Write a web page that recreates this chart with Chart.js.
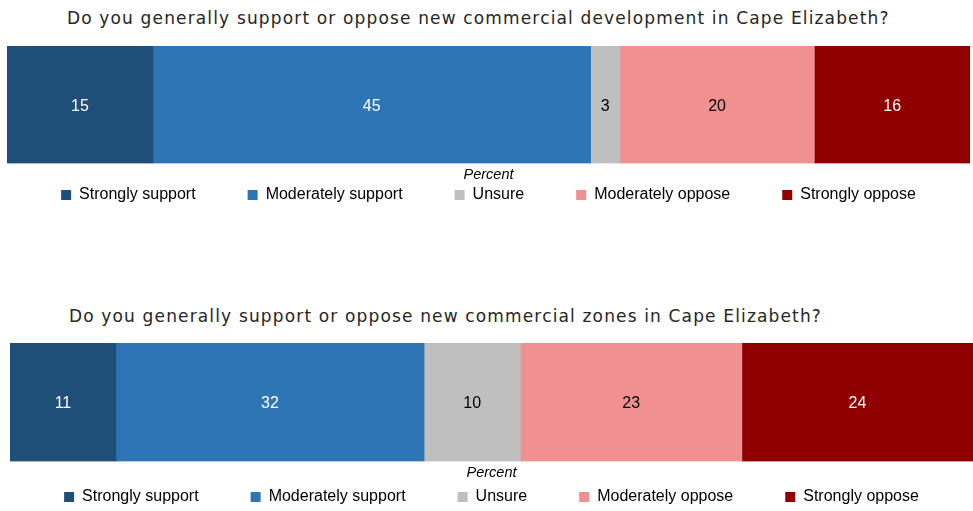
<!DOCTYPE html>
<html>
<head>
<meta charset="utf-8">
<title>Commercial development survey</title>
<script src="https://cdn.jsdelivr.net/npm/chart.js@4.4.0/dist/chart.umd.min.js"></script>
<style>
    body { margin: 0; background: #fff; }
    .question {
        position: absolute;
        font-family: "DejaVu Sans", sans-serif;
        font-size: 17px;
        letter-spacing: 1.15px;
        line-height: 20px;
        color: #262626;
        white-space: nowrap;
    }
    .chart-box { position: absolute; left: 0; width: 973px; }
</style>
</head>
<body>

<div class="question" id="q1" style="left: 67px; top: 8px;"></div>
<div class="chart-box" style="top: 46px; height: 167px;"><canvas id="developmentChart"></canvas></div>

<div class="question" id="q2" style="left: 69px; top: 306px;"></div>
<div class="chart-box" style="top: 343px; height: 172px;"><canvas id="zonesChart"></canvas></div>

<script>
// Survey answers, in percent
const categories = ['Strongly support', 'Moderately support', 'Unsure', 'Moderately oppose', 'Strongly oppose'];
const developmentValues = [15, 45, 3, 20, 16];
const zonesValues = [11, 32, 10, 23, 24];
const questions = [
    'Do you generally support or oppose new commercial development in Cape Elizabeth?',
    'Do you generally support or oppose new commercial zones in Cape Elizabeth?'
];
const axisLabel = 'Percent';

// Segment colours and the colour of the number written on each one
const segmentColors = ['#1f4e79', '#2e75b6', '#bfbfbf', '#f19090', '#900000'];
const numberColors = ['#ffffff', '#ffffff', '#000000', '#000000', '#ffffff'];

const labelFont = '"Liberation Sans", Arial, sans-serif';

// Writes each value in the middle of its segment
const valueLabels = {
    id: 'valueLabels',
    afterDatasetsDraw(chart) {
        const ctx = chart.ctx;
        ctx.save();
        ctx.font = '16px ' + labelFont;
        ctx.textAlign = 'center';
        ctx.textBaseline = 'middle';
        chart.data.datasets.forEach((ds, i) => {
            const bar = chart.getDatasetMeta(i).data[0];
            const props = bar.getProps(['x', 'y', 'base'], true);
            ctx.fillStyle = numberColors[i];
            ctx.fillText(ds.data[0], (props.x + props.base) / 2, props.y + 1.5);
        });
        ctx.restore();
    }
};

function makeChart(canvasId, values, pad, titlePad) {
    const total = values.reduce((a, b) => a + b, 0);

    return new Chart(document.getElementById(canvasId), {
        type: 'bar',
        data: {
            labels: [''],
            datasets: categories.map((name, i) => ({
                label: name,
                data: [values[i]],
                backgroundColor: segmentColors[i],
                borderWidth: 0,
                barPercentage: 1,
                categoryPercentage: 1
            }))
        },
        options: {
            indexAxis: 'y',
            responsive: true,
            maintainAspectRatio: false,
            animation: false,
            layout: { padding: pad },
            scales: {
                x: { stacked: true, min: 0, max: total, display: false },
                y: { stacked: true, display: false }
            },
            plugins: {
                tooltip: { enabled: false },
                legend: {
                    position: 'bottom',
                    title: {
                        display: true,
                        text: axisLabel,
                        color: '#000',
                        font: { family: labelFont, size: 14.5, style: 'italic' },
                        padding: titlePad
                    },
                    labels: {
                        boxWidth: 10,
                        boxHeight: 10,
                        padding: 52,
                        color: '#000',
                        font: { family: labelFont, size: 16 }
                    }
                }
            }
        },
        plugins: [valueLabels]
    });
}

document.getElementById('q1').textContent = questions[0];
document.getElementById('q2').textContent = questions[1];

makeChart('developmentChart', developmentValues,
    { left: 7, right: 3, top: 0, bottom: 0 }, { top: 4, bottom: -49.8 });
makeChart('zonesChart', zonesValues,
    { left: 10, right: 0, top: 0, bottom: 0 }, { top: 4, bottom: -45.8 });
</script>
</body>
</html>
